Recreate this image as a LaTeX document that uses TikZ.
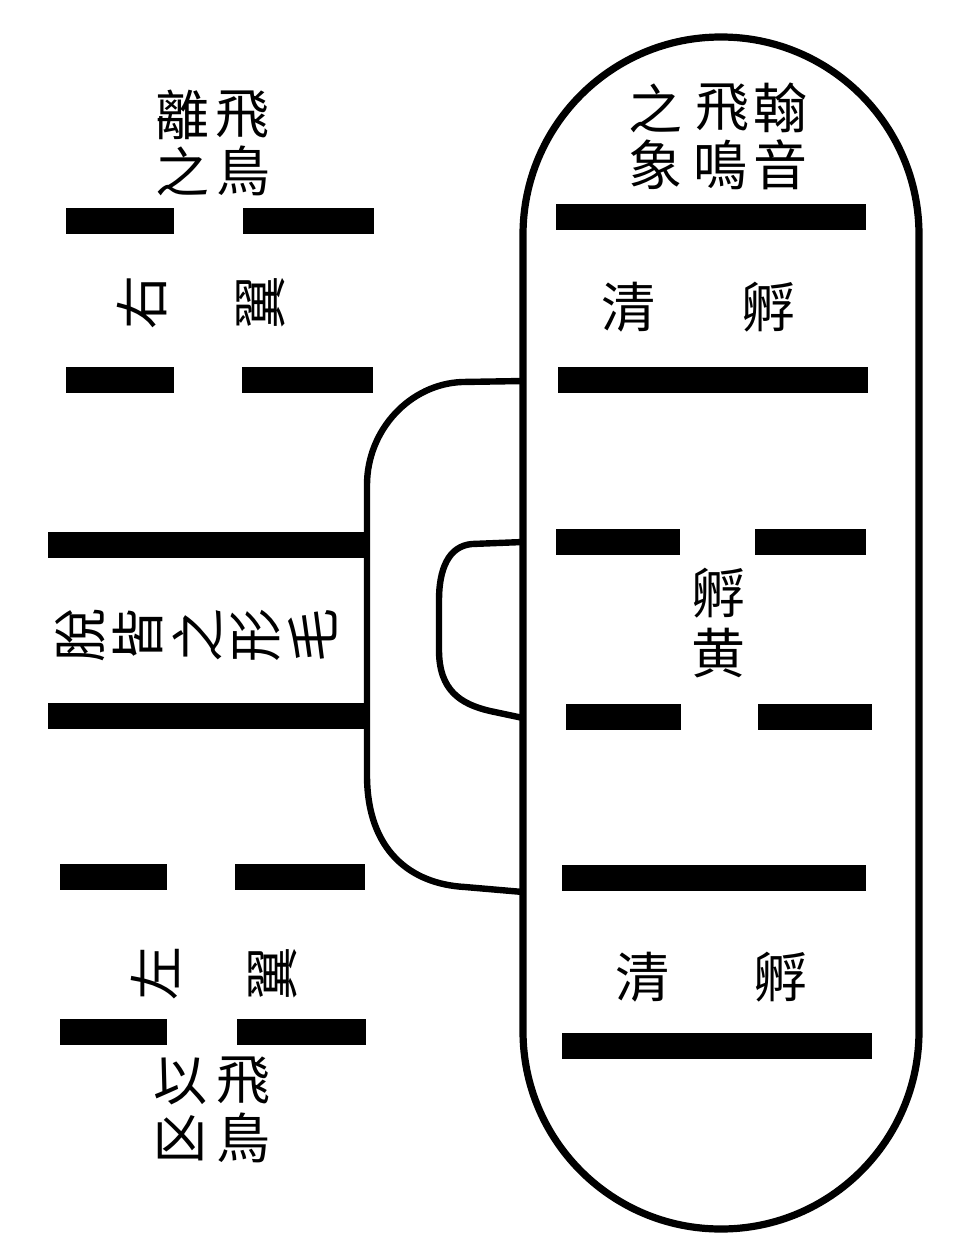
\documentclass[tikz,border=0pt]{standalone}
\usepackage{fontspec}
\newfontfamily\cjk{Noto Sans CJK TC}
\begin{document}
\begin{tikzpicture}[x=0.5pt,y=-0.5pt,
  t/.style={font=\cjk\fontsize{27}{27}\selectfont, inner sep=0pt},
  rt/.style={t, rotate=90},
  barstyle/.style={fill=black, draw=none, inner sep=0pt, minimum height=13pt},
  link/.style={line width=3.2pt, line join=round},
  capsule/.style={draw, line width=3.6pt, rounded corners=98.9pt, inner sep=0pt}]
\useasboundingbox (0,0) rectangle (965,1258);
\newcommand{\mkbar}[4]{\node[barstyle, minimum width={(#3-#2)*0.5pt}] (#1) at ({(#2+#3)/2},#4) {};}
% capsule
\node[capsule, minimum width=198pt, minimum height=596pt] (cap) at (721,633) {};
% left bars
\mkbar{LA1}{66}{174}{221}
\mkbar{LA2}{243}{374}{221}
\mkbar{LB1}{66}{174}{380}
\mkbar{LB2}{242}{373}{380}
\mkbar{LC}{48}{365}{545}
\mkbar{LD}{48}{365}{716}
\mkbar{LE1}{60}{167}{877}
\mkbar{LE2}{235}{365}{877}
\mkbar{LF1}{60}{167}{1032}
\mkbar{LF2}{237}{366}{1032}
% right bars
\mkbar{R1}{556}{866}{217}
\mkbar{R2}{558}{868}{380}
\mkbar{R3a}{556}{680}{542}
\mkbar{R3b}{755}{866}{542}
\mkbar{R4a}{566}{681}{717}
\mkbar{R4b}{758}{872}{717}
\mkbar{R5}{562}{866}{878}
\mkbar{R6}{562}{872}{1046}
% left texts
\node[t] (l1) at (182,115) {離};
\node[t] (l2) at (242,115) {飛};
\node[t] (l3) at (182,171) {之};
\node[t] (l4) at (243,171) {鳥};
\node[rt] (rw1) at (142,302) {右};
\node[rt] (rw2) at (261,302) {翼};
\node[rt] (m1) at (80,635) {脫};
\node[rt] (m2) at (138,635) {皆};
\node[rt] (m3) at (197,635) {之};
\node[rt] (m4) at (256,635) {形};
\node[rt] (m5) at (313,635) {毛};
\node[rt] (lw1) at (155,973) {左};
\node[rt] (lw2) at (273,973) {翼};
\node[t] (b1) at (180,1081) {以};
\node[t] (b2) at (243,1081) {飛};
\node[t] (b3) at (180,1138) {凶};
\node[t] (b4) at (243,1138) {鳥};
% right texts
\node[t] (r1) at (655,108) {之};
\node[t] (r2) at (722,108) {飛};
\node[t] (r3) at (780,108) {翰};
\node[t] (r4) at (655,165) {象};
\node[t] (r5) at (720,165) {鳴};
\node[t] (r6) at (780,165) {音};
\node[t] (q1) at (628,307) {清};
\node[t] (q2) at (768,307) {孵};
\node[t] (y1) at (718,593) {孵};
\node[t] (y2) at (718,653) {黄};
\node[t] (q3) at (642,977) {清};
\node[t] (q4) at (780,977) {孵};
% connectors
\coordinate (oa) at (523,381);
\coordinate (ob) at (523,892);
\coordinate (ia) at (523,542);
\coordinate (ib) at (523,718);
\draw[link] (oa) -- (462,382) .. controls (410,384) and (367,430) .. (367,485)
  -- (367,775) .. controls (367,850) and (410,884) .. (465,887) -- (ob);
\draw[link] (ia) -- (472,544) .. controls (448,546) and (439,570) .. (439,600)
  -- (439,650) .. controls (439,690) and (460,704) .. (490,711) -- (ib);
\end{tikzpicture}
\end{document}
